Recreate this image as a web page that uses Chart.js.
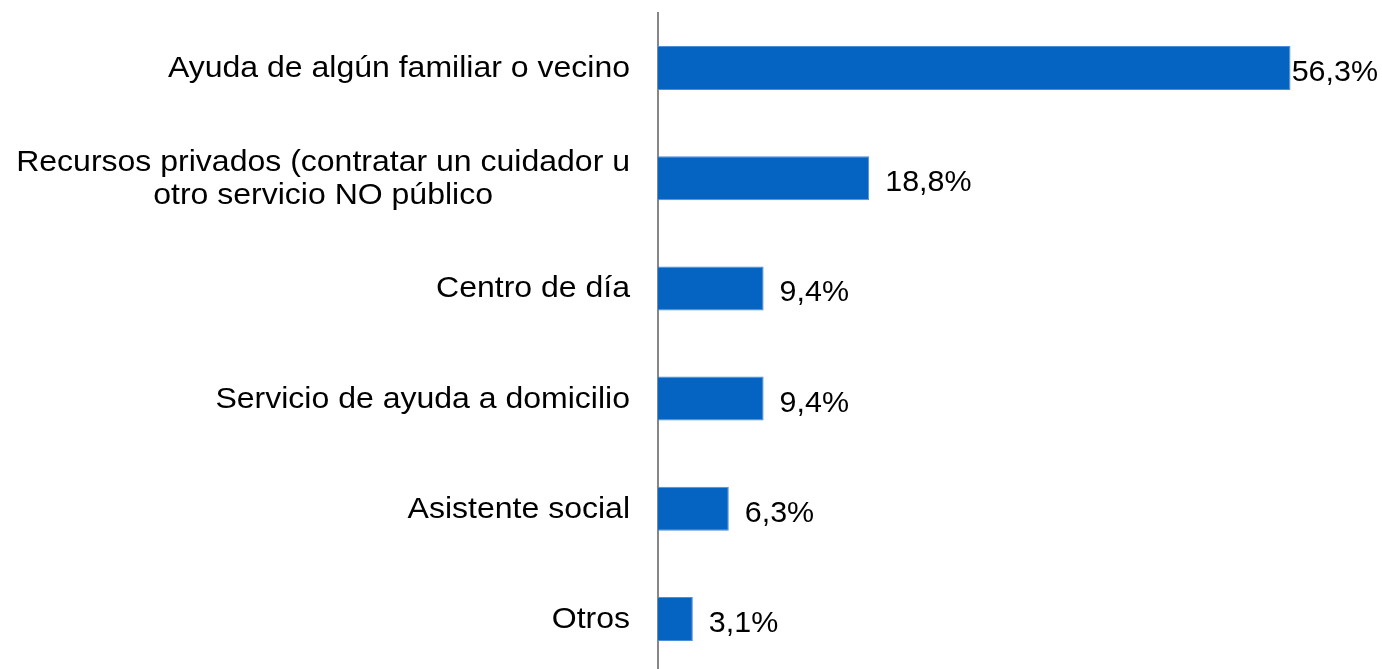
<!DOCTYPE html>
<html>
<head>
<meta charset="utf-8">
<script src="https://cdn.jsdelivr.net/npm/chart.js@4/dist/chart.umd.min.js"></script>
<style>
html, body { margin: 0; padding: 0; background: #fff; overflow: hidden; }
#wrap { position: relative; width: 1382px; height: 674px; }
</style>
</head>
<body>
<div id="wrap"><canvas id="mycanvas"></canvas></div>
<script>
// ** Recursos de ayuda - bar chart

var categorias = [
	'Ayuda de algún familiar o vecino',
	['Recursos privados (contratar un cuidador u', 'otro servicio NO público'],
	'Centro de día',
	'Servicio de ayuda a domicilio',
	'Asistente social',
	'Otros'
];
var porcentajes = [56.3, 18.8, 9.4, 9.4, 6.3, 3.1];
var ejeMax = 64;

var fuenteEje = '30px "Liberation Sans", Arial, sans-serif';
var fuenteValor = '30px "Liberation Sans", Arial, sans-serif';
var estiroEje = 1.067;   // text in the original is slightly wide
var estiroValor = 1.015;

function texto(ctx, txt, x, y, sx) {
	ctx.save();
	ctx.translate(x, y);
	ctx.scale(sx, 1);
	ctx.fillText(txt, 0, 0);
	ctx.restore();
}

// category labels, right edge a bit left of the axis, multi-line centred
var etiquetasEje = {
	id: 'etiquetasEje',
	afterDraw: function(chart) {
		var ctx = chart.ctx;
		var yScale = chart.scales.y;
		var right = chart.chartArea.left - 28;
		ctx.save();
		ctx.font = fuenteEje;
		ctx.fillStyle = '#000';
		ctx.textBaseline = 'alphabetic';
		ctx.textAlign = 'center';
		for (var i = 0; i < categorias.length; i++) {
			var lines = Array.isArray(categorias[i]) ? categorias[i] : [categorias[i]];
			var w = 0;
			lines.forEach(function(l) { w = Math.max(w, ctx.measureText(l).width * estiroEje); });
			var cx = right - w / 2;
			var yc = yScale.getPixelForValue(i);
			var lh = 32.5;
			var y0 = yc + 9 - (lines.length - 1) * lh / 2;
			lines.forEach(function(l, k) { texto(ctx, l, cx, y0 + k * lh, estiroEje); });
		}
		ctx.restore();
	}
};

// value labels after each bar
var etiquetasValor = {
	id: 'etiquetasValor',
	afterDatasetsDraw: function(chart) {
		var ctx = chart.ctx;
		var meta = chart.getDatasetMeta(0);
		ctx.save();
		ctx.font = fuenteValor;
		ctx.fillStyle = '#000';
		ctx.textBaseline = 'alphabetic';
		ctx.textAlign = 'left';
		meta.data.forEach(function(bar, i) {
			var txt = porcentajes[i].toFixed(1).replace('.', ',') + '%';
			var w = ctx.measureText(txt).width * estiroValor;
			var x = Math.min(bar.x + 16, chart.width - w - 4);
			texto(ctx, txt, x, bar.y + 13, estiroValor);
		});
		ctx.restore();
	}
};

var ctx = document.getElementById('mycanvas');

var grafico = new Chart(ctx, {
	type: 'bar',
	data: {
		labels: categorias,
		datasets: [{
			data: porcentajes,
			backgroundColor: '#0563C1',
			borderColor: '#4d8fd6',
			borderWidth: 1,
			borderSkipped: 'left',
			barPercentage: 0.4,
			categoryPercentage: 1
		}]
	},
	options: {
		indexAxis: 'y',
		responsive: true,
		maintainAspectRatio: false,
		animation: false,
		layout: {
			padding: { left: 658, right: 5, top: 13, bottom: 0 }
		},
		plugins: {
			legend: { display: false },
			tooltip: { enabled: false }
		},
		scales: {
			x: {
				display: false,
				min: 0,
				max: ejeMax
			},
			y: {
				afterFit: function(scale) { scale.width = 0; },
				grid: { display: false, drawTicks: false },
				ticks: { display: false },
				border: { display: true, color: '#868686', width: 2 }
			}
		}
	},
	plugins: [etiquetasEje, etiquetasValor]
});
</script>
</body>
</html>
